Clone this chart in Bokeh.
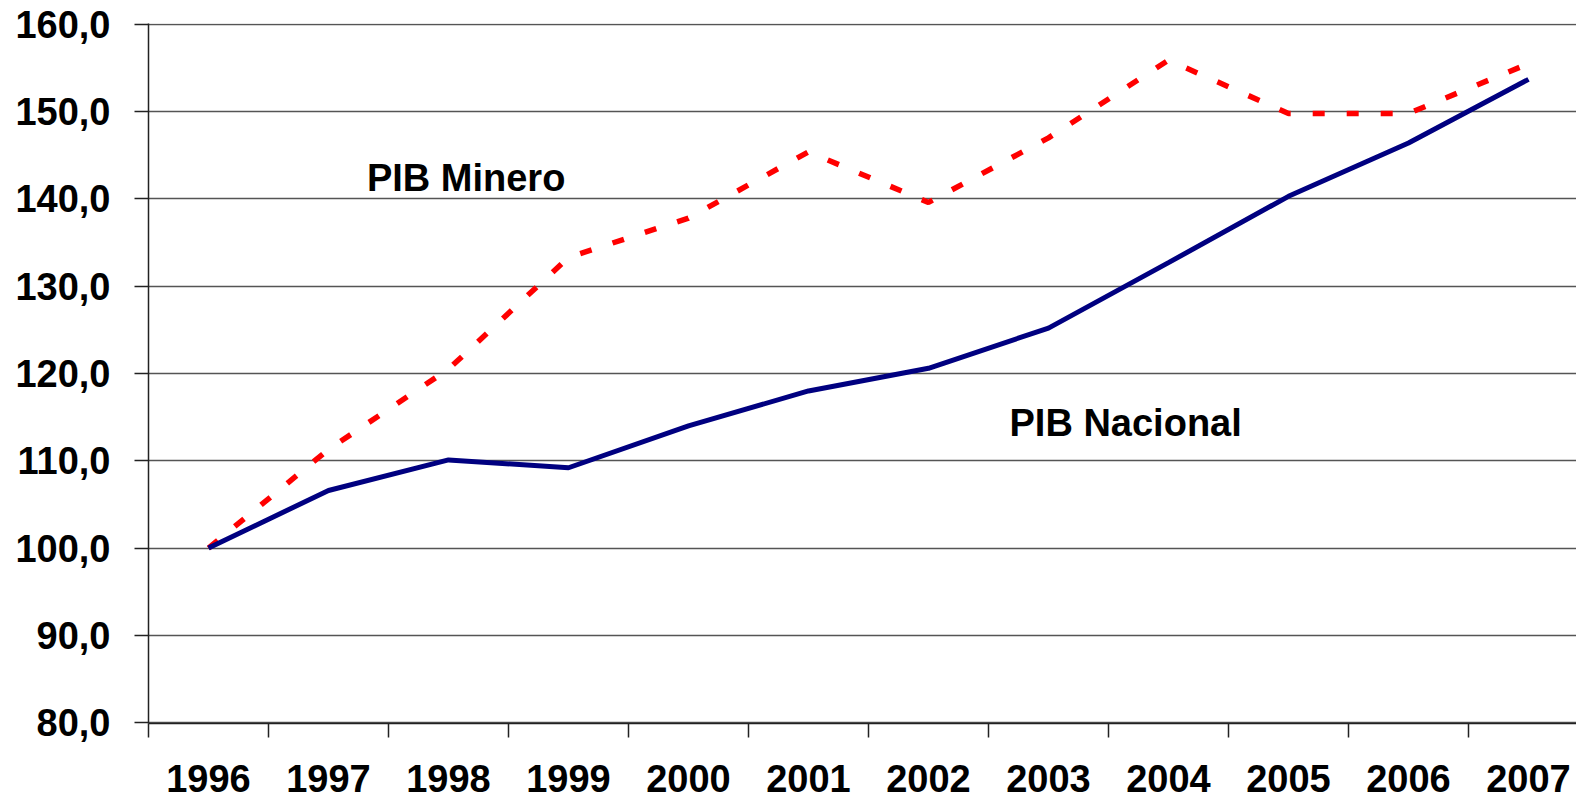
from bokeh.plotting import figure
from bokeh.models import Range1d, FixedTicker, Label
from bokeh.embed import file_html
from bokeh.resources import INLINE

years = ["1996", "1997", "1998", "1999", "2000", "2001", "2002", "2003", "2004", "2005", "2006", "2007"]
pib_nacional = [100.0, 106.6, 110.1, 109.2, 114.0, 118.0, 120.6, 125.2, 132.7, 140.3, 146.4, 153.7]
pib_minero = [100.0, 111.3, 120.5, 133.3, 137.8, 145.4, 139.6, 147.0, 155.9, 149.8, 149.8, 155.5]
y_ticks = [80, 90, 100, 110, 120, 130, 140, 150, 160]

FONT = "Liberation Sans"
xs = list(range(len(years)))

p = figure(width=1576, height=802, output_backend="svg", toolbar_location=None,
           x_range=Range1d(-0.5, -0.5 + 1428 / 120.0), y_range=Range1d(79.9, 160.1),
           min_border_left=148, min_border_right=0, min_border_top=23, min_border_bottom=79)
p.outline_line_color = None
p.background_fill_color = "white"
p.border_fill_color = "white"

# y axis
p.yaxis.ticker = FixedTicker(ticks=y_ticks, minor_ticks=[])
p.yaxis.major_label_overrides = {t: f"{t:.1f}".replace(".", ",") for t in y_ticks}
p.yaxis.major_label_text_font = FONT
p.yaxis.major_label_text_font_style = "bold"
p.yaxis.major_label_text_font_size = "38px"
p.yaxis.major_label_text_color = "black"
p.yaxis.major_label_standoff = 24
p.yaxis.major_tick_out = 14
p.yaxis.major_tick_in = 0
p.yaxis.minor_tick_line_color = None
p.yaxis.axis_line_color = "#222222"
p.yaxis.axis_line_width = 1.5
p.yaxis.major_tick_line_color = "#222222"
p.yaxis.major_tick_line_width = 1.5

# x axis: labels at category centres, tick marks at category boundaries
p.xaxis.ticker = FixedTicker(ticks=xs, minor_ticks=[i - 0.5 for i in xs])
p.xaxis.major_label_overrides = {i: y for i, y in zip(xs, years)}
p.xaxis.major_label_text_font = FONT
p.xaxis.major_label_text_font_style = "bold"
p.xaxis.major_label_text_font_size = "38px"
p.xaxis.major_label_text_color = "black"
p.xaxis.major_tick_line_color = None
p.xaxis.major_tick_out = 14
p.xaxis.major_tick_in = 0
p.xaxis.major_label_standoff = 27
p.xaxis.minor_tick_out = 14
p.xaxis.minor_tick_in = 0
p.xaxis.minor_tick_line_color = "#222222"
p.xaxis.minor_tick_line_width = 1.5
p.xaxis.axis_line_color = "#222222"
p.xaxis.axis_line_width = 1.5

# grid
p.xgrid.grid_line_color = None
p.ygrid.ticker = FixedTicker(ticks=y_ticks)
p.ygrid.grid_line_color = "#555555"
p.ygrid.grid_line_width = 1.5

# series
p.line(xs, pib_minero, line_color="#FF0000", line_width=5.5, line_dash="12 22")
p.line(xs, pib_nacional, line_color="#000080", line_width=5)

# series labels
p.add_layout(Label(x=1.32, y=142.35, text="PIB Minero", text_font=FONT,
                   text_font_style="bold", text_font_size="38px", text_color="black",
                   text_baseline="alphabetic", text_align="left"))
p.add_layout(Label(x=6.675, y=114.38, text="PIB Nacional", text_font=FONT,
                   text_font_style="bold", text_font_size="38px", text_color="black",
                   text_baseline="alphabetic", text_align="left"))

open("out.html", "w").write(file_html(p, INLINE))
